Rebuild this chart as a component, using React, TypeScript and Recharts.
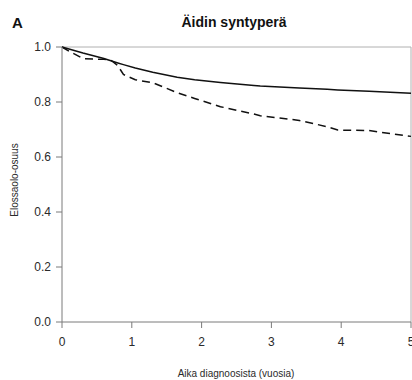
import React from "react";
import { LineChart, Line, XAxis, YAxis, ReferenceLine } from "recharts";

const times = [0, 0.1, 0.3, 0.6, 0.7, 0.8, 0.88, 1.05, 1.3, 1.65, 1.9, 2.27, 2.75, 2.84, 3.4, 3.8, 3.95, 4.4, 5];
const solidSeries = [1.0, 0.993, 0.978, 0.958, 0.95, 0.942, 0.936, 0.924, 0.908, 0.89, 0.881, 0.871, 0.86, 0.858, 0.851, 0.846, 0.844, 0.839, 0.832];
const dashedSeries = [1.0, 0.985, 0.958, 0.955, 0.952, 0.932, 0.9, 0.881, 0.87, 0.834, 0.813, 0.783, 0.756, 0.75, 0.733, 0.71, 0.698, 0.696, 0.675];
const xTicks = [0, 1, 2, 3, 4, 5];
const yTicks = [0, 0.2, 0.4, 0.6, 0.8, 1.0];

const panelLetter = "A";
const title = "Äidin syntyperä";
const xTitle = "Aika diagnoosista (vuosia)";
const yTitle = "Elossaolo-osuus";

const data = times.map((t, i) => ({ t, solid: solidSeries[i], dashed: dashedSeries[i] }));

const FONT = "'Liberation Sans', Arial, sans-serif";

export default function App() {
  return (
    <div style={{ position: "absolute", left: 0, top: 0, width: 412, height: 380, background: "#fff" }}>
      <LineChart width={412} height={380} data={data} margin={{ top: 47, right: 1, bottom: 28, left: 22 }}>
        <XAxis
          dataKey="t"
          type="number"
          domain={[0, 5]}
          ticks={xTicks}
          height={30}
          tickSize={6}
          tickMargin={9}
          stroke="#7a7a7a"
          tick={{ fill: "#2a2a2a", fontSize: 12, fontFamily: FONT }}
          tickLine={{ stroke: "#7a7a7a" }}
          interval={0}
        />
        <YAxis
          type="number"
          domain={[0, 1]}
          ticks={yTicks}
          width={40}
          tickSize={6}
          tickMargin={5}
          stroke="#7a7a7a"
          tickFormatter={(v: number) => v.toFixed(1)}
          tick={{ fill: "#2a2a2a", fontSize: 12, fontFamily: FONT }}
          tickLine={{ stroke: "#7a7a7a" }}
          interval={0}
        />
        <ReferenceLine y={1} stroke="#b0b0b0" strokeWidth={1} ifOverflow="visible" />
        <ReferenceLine x={5} stroke="#b0b0b0" strokeWidth={1} ifOverflow="visible" />
        <Line
          dataKey="solid"
          type="linear"
          stroke="#111"
          strokeWidth={1.5}
          dot={false}
          isAnimationActive={false}
        />
        <Line
          dataKey="dashed"
          type="linear"
          stroke="#111"
          strokeWidth={1.5}
          strokeDasharray="8 5"
          dot={false}
          isAnimationActive={false}
        />
      </LineChart>
      <svg width={412} height={380} style={{ position: "absolute", left: 0, top: 0, pointerEvents: "none" }}>
        <text x={12} y={28} fontFamily={FONT} fontWeight="bold" fontSize={15} fill="#111">{panelLetter}</text>
        <text x={234} y={27} textAnchor="middle" fontFamily={FONT} fontWeight="bold" fontSize={14} fill="#111">{title}</text>
        <text x={236} y={377} textAnchor="middle" fontFamily={FONT} fontSize={10} fill="#2a2a2a">{xTitle}</text>
        <text x={18} y={180} textAnchor="middle" fontFamily={FONT} fontSize={10} fill="#2a2a2a" transform="rotate(-90 18 180)">{yTitle}</text>
      </svg>
    </div>
  );
}
